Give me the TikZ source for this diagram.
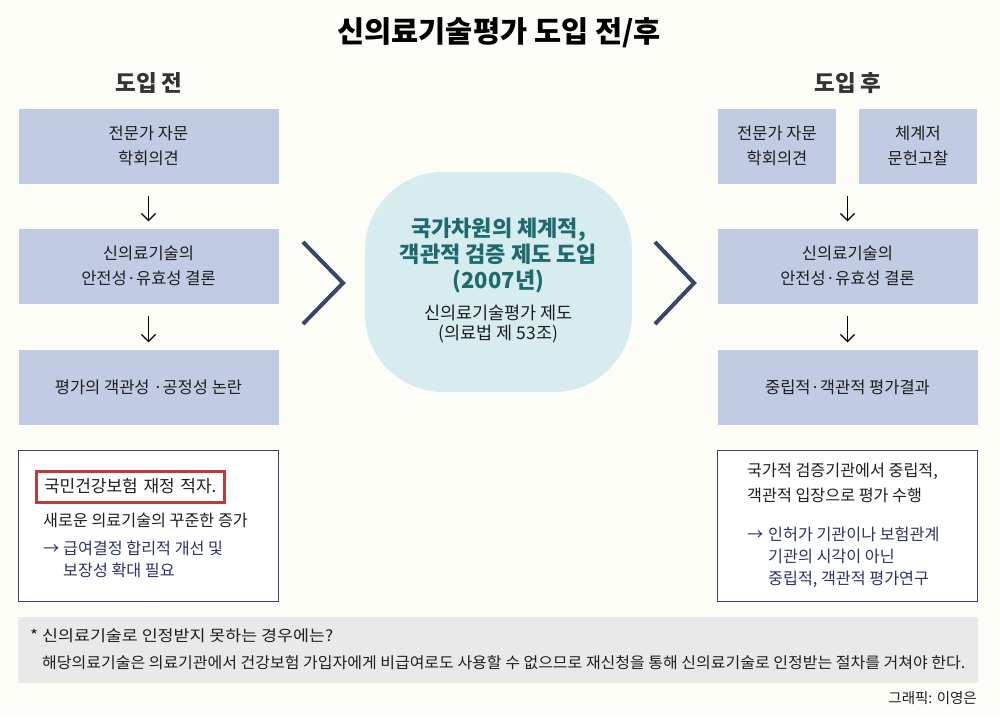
\documentclass[tikz,border=0pt]{standalone}
\usepackage{fontspec}
\setmainfont{Noto Sans CJK KR}
\usetikzlibrary{arrows.meta,calc}
\definecolor{bgc}{HTML}{FDFDF8}
\definecolor{boxc}{HTML}{C2CBE4}
\definecolor{navy}{HTML}{38466A}
\definecolor{bordc}{HTML}{3B4468}
\definecolor{tealc}{HTML}{1F6A6E}
\definecolor{blobc}{HTML}{D6ECEE}
\definecolor{notec}{HTML}{E9E9E9}
\definecolor{redc}{HTML}{C0393B}
\definecolor{txt}{HTML}{1E1E1E}
\definecolor{arrtxt}{HTML}{2B3466}
\begin{document}
\begin{tikzpicture}[x=1pt,y=-1pt,
  flowbox/.style={fill=boxc,draw=none,minimum height=75pt,align=center,
    font=\fontsize{16.5}{25}\selectfont,text=txt,inner sep=0pt},
  textbox/.style={draw=bordc,line width=1.3pt,fill=white,minimum width=260pt,minimum height=151pt,inner sep=0pt},
  plain/.style={font=\fontsize{16.2}{22}\selectfont,text=txt,align=left,inner sep=0pt,anchor=west},
  navytext/.style={plain,text=arrtxt},
  downarr/.style={-{Straight Barb[length=7pt,width=14pt,line width=1.2pt]},line width=1.2pt,black,shorten <=12pt,shorten >=7pt},
  chev/.style={navy,line width=4pt},
  head/.style={font=\fontsize{22.5}{25}\bfseries\selectfont,text=black!80}
]
\useasboundingbox[fill=bgc] (0,0) rectangle (1000,717);

% Title
\node[font=\fontsize{29.5}{32}\bfseries\selectfont,text=black] (title) at (499,33) {신의료기술평가 도입 전/후};
\node[head] (hbefore) at (149,83) {도입 전};
\node[head] (hafter) at (848,83) {도입 후};

% Left flow
\node[flowbox,minimum width=260pt] (l1) at (148.5,146) {전문가 자문\\학회의견};
\node[flowbox,minimum width=260pt] (l2) at (148.5,266) {신의료기술의\\안전성·유효성 결론};
\node[flowbox,minimum width=260pt] (l3) at (148.5,387) {평가의 객관성 ·공정성 논란};
\draw[downarr] (l1) -- (l2);
\draw[downarr] (l2) -- (l3);

% Right flow
\node[flowbox,minimum width=118pt] (r1a) at (777,146) {전문가 자문\\학회의견};
\node[flowbox,minimum width=118pt] (r1b) at (918,146) {체계저\\문헌고찰};
\node[flowbox,minimum width=260pt] (r2) at (847.5,266) {신의료기술의\\안전성·유효성 결론};
\node[flowbox,minimum width=260pt] (r3) at (847.5,387) {중립적·객관적 평가결과};
\coordinate (rtop) at (847.5,183.5);
\draw[downarr] (rtop) -- (r2);
\draw[downarr] (r2) -- (r3);

% Chevrons
\draw[chev] (303,242) -- (343,283) -- (303,324);
\draw[chev] (655,242) -- (694,283) -- (655,324);

% Central blob
\node[fill=blobc,rounded corners=78pt,minimum width=267pt,minimum height=220pt,inner sep=0pt] (blob) at (498.5,282) {};
\node[font=\fontsize{22}{26}\bfseries\selectfont,text=tealc,align=center,inner sep=0pt] (btitle) at (498.5,255) {국가차원의 체계적,\\객관적 검증 제도 도입\\(2007년)};
\node[font=\fontsize{17.5}{19.5}\selectfont,text=txt,align=center,inner sep=0pt] (bsub) at (498.5,324) {신의료기술평가 제도\\(의료법 제 53조)};

% Left text box
\node[textbox] (lbox) at (148.5,526) {};
\node[plain,draw=redc,line width=3pt,minimum width=188pt,minimum height=31pt,inner sep=0pt,text width=181pt,align=left,font=\fontsize{17}{20}\selectfont] (red) at (35,486.5) {\hspace*{4pt}국민건강보험 재정 적자.};
\node[plain] (l4) at (43,520) {새로운 의료기술의 꾸준한 증가};
\node[navytext,anchor=north west] (l5) at (43,541) {\makebox[20pt][l]{→}급여결정 합리적 개선 및\\\hspace*{20pt}보장성 확대 필요};

% Right text box
\node[textbox] (rbox) at (847.5,526) {};
\node[plain,anchor=north west,font=\fontsize{16.2}{25}\selectfont] (r4) at (747,463) {국가적 검증기관에서 중립적,\\객관적 입장으로 평가 수행};
\node[navytext,anchor=north west] (r5) at (747,527) {\makebox[21pt][l]{→}인허가 기관이나 보험관계\\\hspace*{21pt}기관의 시각이 아닌\\\hspace*{21pt}중립적, 객관적 평가연구};

% Note
\node[fill=notec,minimum width=960pt,minimum height=66pt,inner sep=0pt] (note) at (498,650) {};
\node[plain] (n1) at (30,636) {\resizebox{303pt}{\height}{\fontsize{15.5}{18}\selectfont * 신의료기술로 인정받지 못하는 경우에는?}};
\node[plain] (n2) at (42,663) {\resizebox{923pt}{\height}{\fontsize{15.5}{18}\selectfont 해당의료기술은 의료기관에서 건강보험 가입자에게 비급여로도 사용할 수 없으므로 재신청을 통해 신의료기술로 인정받는 절차를 거쳐야 한다.}};
\node[plain,anchor=east,font=\fontsize{14.5}{17}\selectfont] (credit) at (977,698) {그래픽: 이영은};
\end{tikzpicture}
\end{document}
